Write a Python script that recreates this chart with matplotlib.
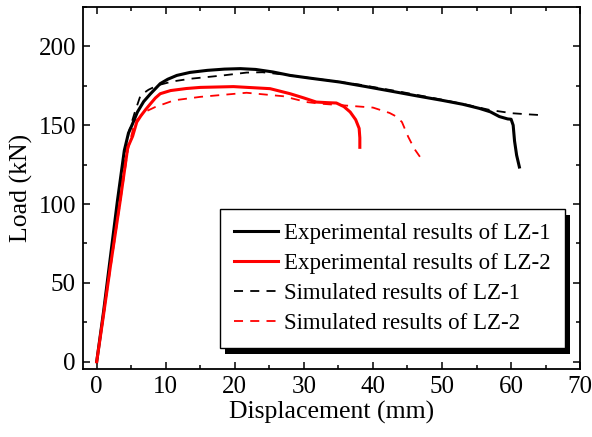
import matplotlib
matplotlib.use("Agg")
import matplotlib.pyplot as plt
from matplotlib.patches import Rectangle
from matplotlib.ticker import MultipleLocator

plt.rcParams['font.family'] = ['Liberation Serif', 'DejaVu Serif']

# Experimental LZ-1
exp1_x = [0, 1, 2, 3, 4, 4.6, 5.2, 5.9, 6.8, 7.8, 9.2, 10.3, 11.6, 13.5, 16, 18.5, 20.8, 23, 25.5, 28, 31, 35.2, 39, 43.4, 46.5, 50, 53, 55.4, 57, 58.3, 59.5, 60.0, 60.3, 60.5, 60.8, 61.2]
exp1_y = [0, 32, 67, 102, 134, 145, 151, 158.4, 165, 170, 176.4, 179.2, 181.6, 183.5, 184.8, 185.6, 185.9, 185.4, 183.8, 181.6, 179.8, 177.4, 174.5, 171, 168.5, 165.8, 163.3, 160.7, 158.5, 155.5, 154, 153.8, 150, 140, 131, 123.5]

# Experimental LZ-2
exp2_x = [0, 1, 2, 3.4, 4.5, 5.2, 5.8, 6.4, 7.1, 7.8, 8.5, 9.2, 10.7, 13, 15, 19.8, 25.1, 28, 30, 31.8, 33.5, 34.7, 35.8, 36.7, 37.5, 38.0, 38.1, 38.1]
exp2_y = [0, 30, 61, 102, 136, 143, 152, 156, 160, 163.7, 167.3, 170, 172, 173.3, 174, 174.5, 173.2, 170, 167.3, 164.7, 164.3, 164.1, 161.8, 158.4, 153.5, 148, 142, 136]

# Simulated LZ-1
sim1_x = [0, 4.6, 5.5, 6.35, 7.5, 8.8, 11, 13.6, 18.3, 21.7, 24, 27, 32, 38, 44, 50, 54, 57, 60.2, 62.5, 64.8]
sim1_y = [0, 145, 158, 169, 172.5, 175.3, 177.8, 179.5, 181.6, 183.4, 183.6, 182.2, 179.3, 175.8, 171.2, 166.2, 162.6, 159.6, 157.6, 156.9, 156.3]

# Simulated LZ-2
sim2_x = [0, 4.5, 5.5, 7.0, 8.5, 11.2, 15, 21.7, 27, 30.4, 32.3, 37.6, 40, 42.4, 43.4, 44.2, 45.1, 46.0, 46.8]
sim2_y = [0, 134, 152, 158.5, 161.6, 165.8, 168, 170.6, 168.4, 164.7, 163.7, 162, 161.2, 157.8, 155.5, 152, 142.7, 135, 130]

labels = ["Experimental results of LZ-1", "Experimental results of LZ-2",
          "Simulated results of LZ-1", "Simulated results of LZ-2"]

fig = plt.figure(figsize=(5.92, 4.37), dpi=100)
ax = fig.add_axes([0.140, 0.156, 0.840, 0.828])

ax.plot(exp1_x, exp1_y, color='black', lw=2.2, label=labels[0], zorder=4)
ax.plot(exp2_x, exp2_y, color='red', lw=2.2, label=labels[1], zorder=4)
ax.plot(sim1_x, sim1_y, color='black', lw=1.3, ls=(0, (5, 4)), label=labels[2], zorder=3)
ax.plot(sim2_x, sim2_y, color='red', lw=1.3, ls=(0, (5, 4)), label=labels[3], zorder=3)

ax.set_xlim(-2, 70)
ax.set_ylim(-4.5, 225)
ax.xaxis.set_major_locator(MultipleLocator(10))
ax.xaxis.set_minor_locator(MultipleLocator(5))
ax.yaxis.set_major_locator(MultipleLocator(50))
ax.yaxis.set_minor_locator(MultipleLocator(25))
ax.tick_params(which='both', direction='in', top=True, right=True, labelsize=18, width=1.1)
ax.tick_params(which='major', length=5, pad=5)
ax.tick_params(which='minor', length=3)
for s in ax.spines.values():
    s.set_linewidth(1.3)

ax.set_xlabel("Displacement (mm)", fontsize=18.5, labelpad=2)
ax.set_ylabel("Load (kN)", fontsize=18.5, labelpad=4)

leg = ax.legend(loc='lower right', bbox_to_anchor=(0.970, 0.058), borderaxespad=0,
                fontsize=16.5, frameon=True, fancybox=False, edgecolor='black',
                framealpha=1, handlelength=1.9, handletextpad=0.3, labelspacing=0.38,
                borderpad=0.62)
leg.get_frame().set_linewidth(1.0)
leg.set_zorder(10)

fig.canvas.draw()
bb = leg.get_window_extent().transformed(ax.transAxes.inverted())
off_x = 5 / (0.840 * 592)
off_y = 6 / (0.828 * 437)
shadow = Rectangle((bb.x0 + off_x, bb.y0 - off_y), bb.width, bb.height,
                   transform=ax.transAxes, facecolor='black', edgecolor='none', zorder=9,
                   clip_on=False)
ax.add_patch(shadow)

fig.savefig("out.png", dpi=100)
